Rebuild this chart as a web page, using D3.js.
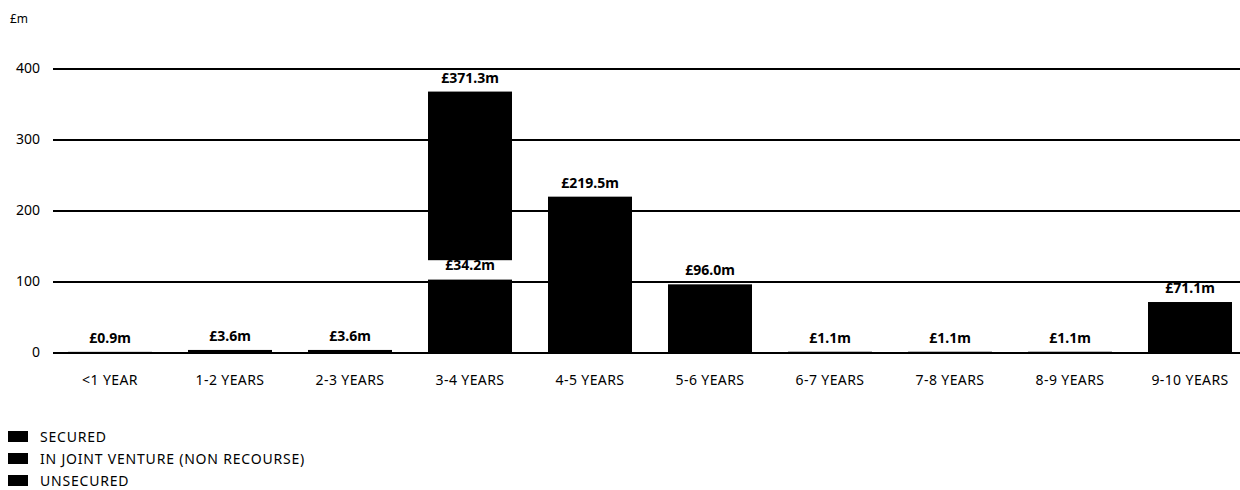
<!DOCTYPE html>
<html>
<head>
<meta charset="utf-8">
<script src="https://cdn.jsdelivr.net/npm/d3@7"></script>
<style>
  body { margin: 0; background: #fff; }
  svg { display: block; font-family: "Noto Sans", sans-serif; }
</style>
</head>
<body>
<svg id="chart"></svg>
<script>
// categories and series (values in £m)
const categories = ["<1 YEAR", "1-2 YEARS", "2-3 YEARS", "3-4 YEARS", "4-5 YEARS",
  "5-6 YEARS", "6-7 YEARS", "7-8 YEARS", "8-9 YEARS", "9-10 YEARS"];
const seriesNames = ["SECURED", "IN JOINT VENTURE (NON RECOURSE)", "UNSECURED"];
const secured = [0.9, 3.6, 3.6, 103.0, 219.5, 96.0, 1.1, 1.1, 1.1, 71.1];
const jointVenture = [0, 0, 0, 27.0, 0, 0, 0, 0, 0, 0];
const unsecured = [0, 0, 0, 237.5, 0, 0, 0, 0, 0, 0];
const yTicks = [0, 100, 200, 300, 400];
// value labels: [category index, value it sits on, text]
const valueLabels = [
  [0, 0.9, "£0.9m"], [1, 3.6, "£3.6m"], [2, 3.6, "£3.6m"],
  [3, 103.0, "£34.2m"], [3, 367.5, "£371.3m"], [4, 219.5, "£219.5m"],
  [5, 96.0, "£96.0m"], [6, 1.1, "£1.1m"], [7, 1.1, "£1.1m"], [8, 1.1, "£1.1m"],
  [9, 71.1, "£71.1m"]
];

const width = 1240, height = 490;
const marginLeft = 53, marginRight = 0, zeroY = 352.5, topY = 68.5;

const svg = d3.select("#chart")
    .attr("width", width)
    .attr("height", height)
    .attr("viewBox", [0, 0, width, height]);

const x = d3.scaleBand()
    .domain(categories)
    .range([50, 1250])
    .paddingInner(0.3)
    .paddingOuter(0.15);

const y = d3.scaleLinear()
    .domain([0, 400])
    .range([zeroY, topY]);

// stack the three series; JV segment shows as a white gap in the scan
const table = categories.map((c, i) => ({
  cat: c,
  [seriesNames[0]]: secured[i],
  [seriesNames[1]]: jointVenture[i],
  [seriesNames[2]]: unsecured[i]
}));
const stacked = d3.stack().keys(seriesNames)(table);
const fills = ["#000", "#fff", "#000"];

svg.append("text")
    .attr("x", 10)
    .attr("y", 23)
    .attr("font-size", 12)
    .attr("fill", "#000")
    .text("£m");

svg.append("g")
  .selectAll("g")
  .data(stacked)
  .join("g")
    .attr("fill", (d, i) => fills[i])
  .selectAll("rect")
  .data(d => d)
  .join("rect")
    .attr("x", d => x(d.data.cat))
    .attr("width", x.bandwidth())
    .attr("y", d => y(d[1]))
    .attr("height", d => Math.max(0, y(d[0]) - y(d[1])));

svg.append("g")
    .attr("font-size", 14)
    .attr("font-weight", "bold")
    .attr("text-anchor", "middle")
  .selectAll("text")
  .data(valueLabels)
  .join("text")
    .attr("x", d => x(categories[d[0]]) + x.bandwidth() / 2)
    .attr("y", d => Math.min(y(d[1]) - 9, zeroY - 10))
    .text(d => d[2]);

// y axis with full-width gridlines
const yAxis = d3.axisLeft(y)
    .tickValues(yTicks)
    .tickSize(-(width - marginLeft - marginRight))
    .tickPadding(13);

svg.append("g")
    .attr("transform", `translate(${marginLeft},0)`)
    .call(yAxis)
    .call(g => g.select(".domain").remove())
    .call(g => g.selectAll(".tick line").attr("stroke", "#000").attr("stroke-width", 2))
    .call(g => g.selectAll(".tick text")
        .attr("font-size", 14)
        .attr("font-family", "Noto Sans, sans-serif")
        .attr("fill", "#000"));

// category axis
svg.append("g")
    .attr("transform", `translate(0,${zeroY})`)
    .call(d3.axisBottom(x).tickSize(0).tickPadding(23))
    .call(g => g.select(".domain").remove())
    .call(g => g.selectAll(".tick text")
        .attr("font-size", 14)
        .attr("letter-spacing", "0.4px")
        .attr("font-family", "Noto Sans, sans-serif")
        .attr("fill", "#000"));

// legend
const legend = svg.append("g")
  .selectAll("g")
  .data(seriesNames)
  .join("g")
    .attr("transform", (d, i) => `translate(8,${431 + i * 22})`);

legend.append("rect")
    .attr("width", 20)
    .attr("height", 11)
    .attr("fill", "#000");

legend.append("text")
    .attr("x", 32)
    .attr("y", 6)
    .attr("dy", "0.35em")
    .attr("font-size", 14)
    .attr("letter-spacing", "0.8px")
    .attr("fill", "#000")
    .text(d => d);
</script>
</body>
</html>
